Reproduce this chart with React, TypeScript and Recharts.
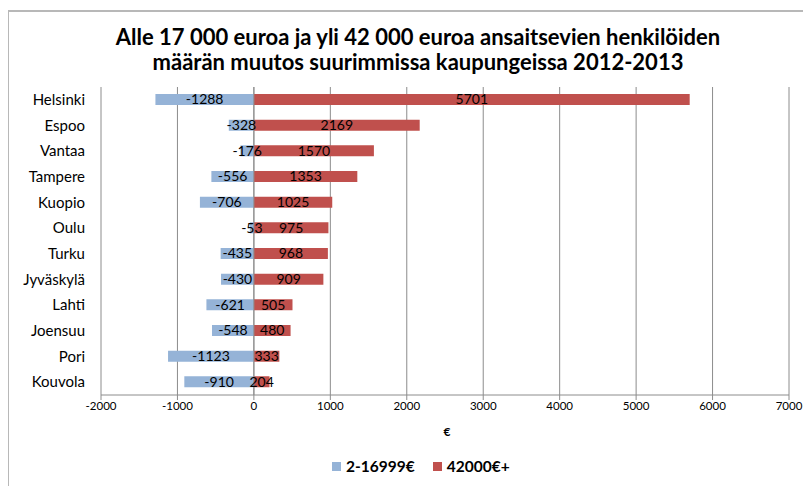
import { BarChart, Bar, XAxis, YAxis, CartesianGrid, LabelList, ReferenceLine } from "recharts";

const cities = ["Helsinki", "Espoo", "Vantaa", "Tampere", "Kuopio", "Oulu", "Turku", "Jyväskylä", "Lahti", "Joensuu", "Pori", "Kouvola"];
const lowIncome = [-1288, -328, -176, -556, -706, -53, -435, -430, -621, -548, -1123, -910];
const highIncome = [5701, 2169, 1570, 1353, 1025, 975, 968, 909, 505, 480, 333, 204];
const xTicks = [-2000, -1000, 0, 1000, 2000, 3000, 4000, 5000, 6000, 7000];

const data = cities.map((city, i) => ({ city, low: lowIncome[i], high: highIncome[i] }));

const FONT = "Lato, 'Open Sans', sans-serif";
const GRID = "#8c8c8c";

const App = () => {
  return (
    <div style={{ position: "relative", width: 803, height: 478, fontFamily: FONT }}>
      <div
        style={{
          position: "absolute",
          left: -1,
          top: 2,
          right: -8,
          bottom: -10,
          borderLeft: "2px solid #b8b8b8",
          borderTop: "2px solid #b8b8b8",
        }}
      />
      <div
        style={{
          position: "absolute",
          left: 0,
          top: 16,
          width: 820,
          textAlign: "center",
          fontWeight: 700,
          fontSize: 22,
          lineHeight: "25px",
          color: "#000",
        }}
      >
        Alle 17 000 euroa ja yli 42 000 euroa ansaitsevien henkilöiden
        <br />
        määrän muutos suurimmissa kaupungeissa 2012-2013
      </div>
      <BarChart
        width={803}
        height={478}
        data={data}
        layout="vertical"
        stackOffset="sign"
        margin={{ top: 79, right: 22, bottom: 66, left: 0 }}
        style={{ position: "absolute", left: 0, top: 0 }}
      >
        <CartesianGrid vertical horizontal={false} stroke={GRID} />
        <XAxis
          type="number"
          domain={[-2000, 7000]}
          ticks={xTicks}
          interval={0}
          axisLine={{ stroke: GRID }}
          tickLine={{ stroke: GRID }}
          tickSize={5}
          tick={{ fill: "#000", fontSize: 11.5, fontFamily: FONT }}
          height={25}
        />
        <YAxis
          type="category"
          dataKey="city"
          width={93}
          axisLine={false}
          tickLine={false}
          tickMargin={10}
          tick={{ fill: "#000", fontSize: 15, fontFamily: FONT }}
        />
        <ReferenceLine x={0} stroke={GRID} />
        <Bar dataKey="low" stackId="a" fill="#95b3d7" barSize={11} isAnimationActive={false}>
          <LabelList dataKey="low" position="center" fill="#000" fontSize={14} fontFamily={FONT} />
        </Bar>
        <Bar dataKey="high" stackId="a" fill="#c0504d" barSize={11} isAnimationActive={false}>
          <LabelList dataKey="high" position="center" fill="#000" fontSize={14} fontFamily={FONT} />
        </Bar>
      </BarChart>
      <div
        style={{
          position: "absolute",
          left: 429,
          top: 416,
          width: 20,
          textAlign: "center",
          fontSize: 12,
          fontWeight: 700,
        }}
      >
        €
      </div>
      <div
        style={{
          position: "absolute",
          left: 324,
          top: 449,
          display: "flex",
          gap: 18,
          fontSize: 15.5,
          fontWeight: 700,
        }}
      >
        <span style={{ display: "flex", alignItems: "center", gap: 5 }}>
          <span style={{ width: 9, height: 9, background: "#95b3d7", display: "inline-block" }} />
          2-16999€
        </span>
        <span style={{ display: "flex", alignItems: "center", gap: 5 }}>
          <span style={{ width: 9, height: 9, background: "#c0504d", display: "inline-block" }} />
          42000€+
        </span>
      </div>
    </div>
  );
};

export default App;
